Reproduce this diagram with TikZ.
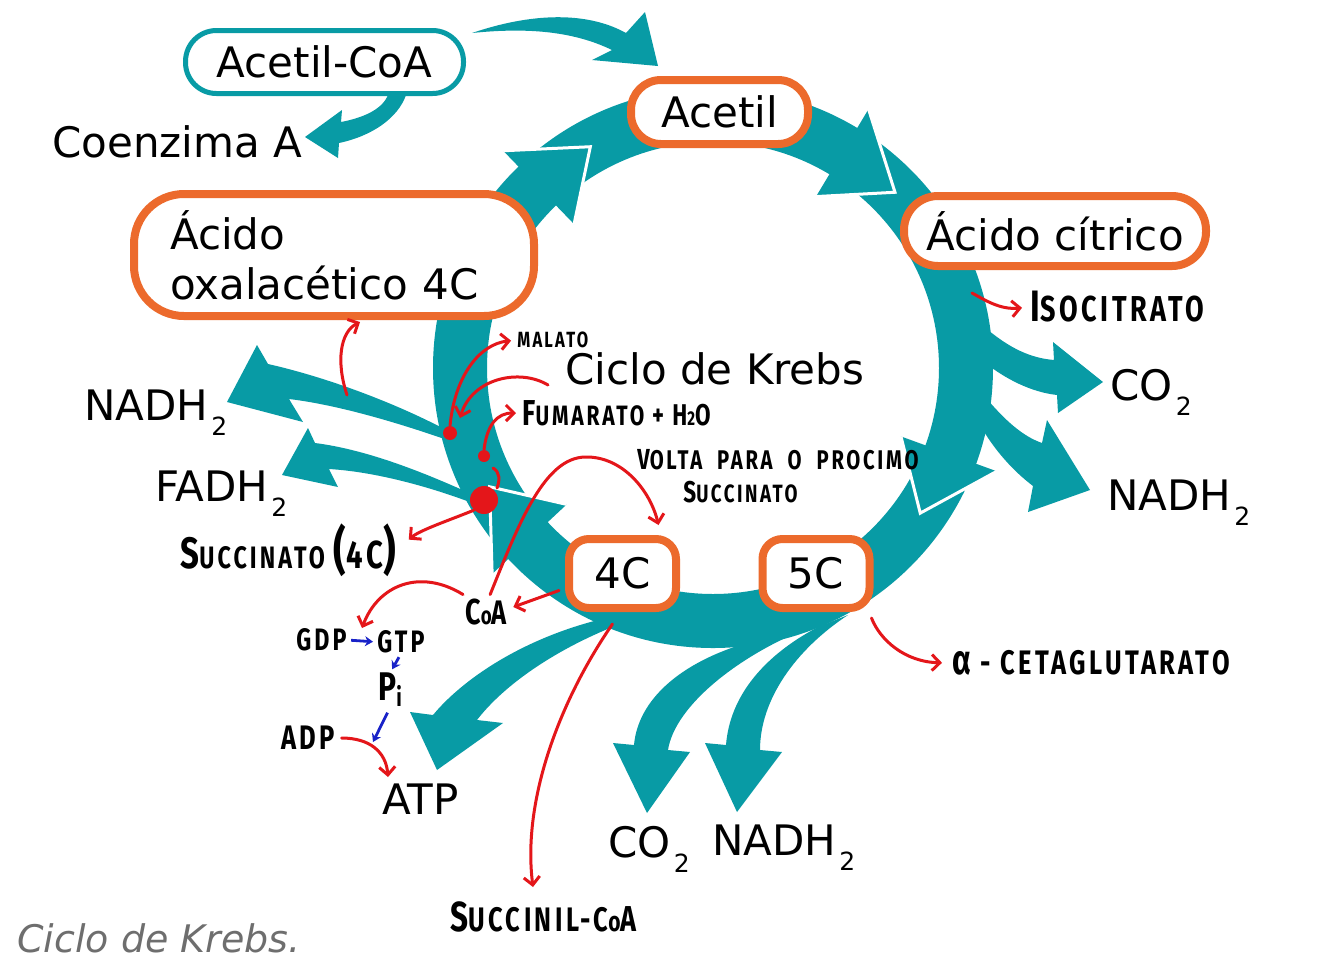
\documentclass[tikz,border=0pt]{standalone}
\usepackage{fontspec}
\setmainfont{DejaVu Sans}
\newfontfamily\hand{Fira Sans}[FakeStretch=0.75,LetterSpace=10]
\usetikzlibrary{arrows.meta,calc}
\definecolor{teal1}{RGB}{8,155,165}
\definecolor{orange1}{RGB}{236,106,44}
\definecolor{red1}{RGB}{228,22,26}
\definecolor{blue1}{RGB}{24,34,200}
\definecolor{gray1}{RGB}{110,110,110}
\newcommand\hsz[1]{\fontsize{#1}{#1}\selectfont}
\newcommand\dn{\hspace{1.5pt}\raisebox{-7.5pt}{\fontsize{12.5}{12.5}\selectfont 2}}
\tikzset{
  lab/.style={inner sep=0pt, font=\fontsize{21}{25}\selectfont},
  obox/.style={draw=orange1, line width=4pt, fill=white, inner sep=0pt, font=\fontsize{21}{25}\selectfont},
  ra/.style={draw=red1, line width=1.5pt, line cap=round, -{Straight Barb[length=4pt,width=8pt]}},
  ba/.style={draw=blue1, line width=1.4pt, -{Stealth[length=4pt,width=5pt]}},
  hw/.style={inner sep=0pt, font=\hand\bfseries},
  rdot/.style={circle, fill=red1, inner sep=0pt},
  tarr/.style={fill=teal1}
}
\begin{document}
\begin{tikzpicture}[x=0.5pt,y=-0.5pt]
\useasboundingbox (0,0) rectangle (1334,966);
\fill[white] (0,0) rectangle (1334,966);
\coordinate (C) at (713,368);
% ring
\fill[teal1, even odd rule] (C) circle[radius=140pt] (C) circle[radius=113pt];
% outer arrows
\fill[tarr] (472,33) .. controls (540,10) and (592,14) .. (626,33) -- (645,12) -- (658,66) -- (592,60) -- (612,50) .. controls (575,32) and (530,27) .. (472,33) -- cycle;
\fill[tarr] (388,95) .. controls (382,110) and (362,118) .. (341,122) -- (342,110) -- (305,137) -- (338,158) -- (339,143) .. controls (372,136) and (398,118) .. (406,95) -- cycle;
\fill[tarr] (450,432) .. controls (400,405) and (330,378) .. (268,364) -- (257,345) -- (227,402) -- (303,422) -- (289,399) .. controls (340,405) and (405,425) .. (453,442) -- cycle;
\fill[tarr] (478,497) .. controls (430,475) and (370,450) .. (315,443) -- (308,428) -- (282,475) -- (338,487) -- (329,469) .. controls (380,472) and (440,490) .. (480,506) -- cycle;
\fill[tarr] (988,330) .. controls (1010,348) and (1030,358) .. (1054,360) -- (1053,342) -- (1103,382) -- (1058,413) -- (1057,395) .. controls (1030,392) and (1005,378) .. (988,365) -- cycle;
\fill[tarr] (986,398) .. controls (1005,420) and (1022,436) .. (1042,443) -- (1047,420) -- (1090,490) -- (1028,512) -- (1033,486) .. controls (1012,470) and (995,450) .. (983,430) -- cycle;
\fill[tarr] (598,620) .. controls (520,640) and (462,680) .. (433,715) -- (410,712) -- (437,770) -- (503,723) -- (477,720) .. controls (500,690) and (545,655) .. (610,628) -- cycle;
\fill[tarr] (750,642) .. controls (680,662) and (638,700) .. (634,745) -- (613,743) -- (647,813) -- (690,752) -- (668,750) .. controls (675,705) and (740,655) .. (808,628) -- cycle;
\fill[tarr] (818,627) .. controls (765,655) and (730,695) .. (726,745) -- (705,743) -- (737,812) -- (782,752) -- (760,750) .. controls (760,700) and (795,650) .. (848,615) -- cycle;
% ring heads
\foreach \a in {137,226,301,20}{
  \filldraw[fill=teal1, draw=white, line width=1.5pt] ($(C)+(\a:200)$) -- ($(C)+(\a+15:253)$) -- ($(C)+(\a:302)$);
}
% boxes
\node[draw=teal1, line width=2.5pt, fill=white, rounded corners=15.5pt, minimum width=139pt, minimum height=31.5pt, lab] (acoa) at (324.5,62) {Acetil-CoA};
\node[obox, rounded corners=15pt, minimum width=88.5pt, minimum height=32pt] (acetil) at (719.5,112) {Acetil};
\node[obox, rounded corners=17pt, minimum width=151pt, minimum height=35pt] (cit) at (1055,231) {Ácido cítrico};
\node[obox, rounded corners=25pt, minimum width=200pt, minimum height=61pt, text width=164pt, inner xsep=18pt, align=left] (oxa) at (334,255) {Ácido\\oxalacético 4C};
\node[obox, rounded corners=10pt, minimum width=53.5pt, minimum height=34.5pt] (c4) at (622.5,573.5) {4C};
\node[obox, rounded corners=10pt, minimum width=53.5pt, minimum height=34.5pt] (c5) at (816,573.5) {5C};
% labels
\node[lab, anchor=base west] (coenz) at (52,157) {Coenzima A};
\node[lab, anchor=base west] (krebs) at (565,384) {Ciclo de Krebs};
\node[lab, anchor=base west] (nadhL) at (84,420) {NADH\dn};
\node[lab, anchor=base west] (fadh) at (155,501) {FADH\dn};
\node[lab, anchor=base west] (co2R) at (1110,400) {CO\dn};
\node[lab, anchor=base west] (nadhR) at (1107,510) {NADH\dn};
\node[lab, anchor=base west] (atp) at (382,814) {ATP};
\node[lab, anchor=base west] (co2B) at (608,857) {CO\dn};
\node[lab, anchor=base west] (nadhB) at (712,855) {NADH\dn};
\node[anchor=base west, inner sep=0pt, font=\fontsize{19}{19}\selectfont\itshape, text=gray1] (cap) at (17,952) {Ciclo de Krebs.};
% handwritten notes
\node[hw, anchor=west] (malato) at (517,340) {\hsz{11}MALATO};
\node[hw, anchor=west] (fum) at (522,413) {\hsz{18}F\hsz{14}UMARATO \hsz{15}+ H\hsz{10}2\hsz{15}O};
\node[hw, anchor=west] (volta) at (637,460) {\hsz{14.5}V\hsz{13.5}OLTA\ \ PARA\ \ O\ \ PROCIMO};
\node[hw, anchor=west] (succ2) at (683,492) {\hsz{15}S\hsz{12.5}UCCINATO};
\node[hw, anchor=west] (succ) at (180,550) {\hsz{22}S\hsz{15.5}UCCINATO \hsz{26}(\hsz{19.5}4C\hsz{26})};
\node[hw, anchor=west] (coa) at (465,612) {\hsz{18}C\hsz{12.5}o\hsz{17}A};
\node[hw, anchor=west] (gdp) at (296,640) {\hsz{15.5}GDP};
\node[hw, anchor=west] (gtp) at (377,642) {\hsz{15.5}GTP};
\node[hw, anchor=west] (pi) at (378,690) {\hsz{20}P\raisebox{-3pt}{\hsz{13}i}};
\node[hw, anchor=west] (adp) at (281,738) {\hsz{17}ADP};
\node[hw, anchor=west] (iso) at (1030,307) {\hsz{22}I\hsz{18}SOCITRATO};
\node[hw, anchor=west] (ceta) at (952,663) {\hsz{21}α\hsz{17} - CETAGLUTARATO};
\node[hw, anchor=west] (succoa) at (450,917) {\hsz{21}S\hsz{17}UCCINIL-C\hsz{14}o\hsz{18}A};
% red dots
\node[rdot, minimum size=7pt] (d1) at (450,433) {};
\node[rdot, minimum size=6pt] (d2) at (484,456) {};
\node[rdot, minimum size=14pt] (d3) at (484,500) {};
% coordinates
\coordinate (a1) at (347,395);
\coordinate (a1e) at (360,322);
\coordinate (a3) at (548,385);
\coordinate (a3e) at (460,418);
\coordinate (a5) at (493,468);
\coordinate (a5e) at (497,488);
\coordinate (a9e) at (362,628);
\coordinate (a12e) at (373,742);
\coordinate (a13e) at (388,777);
\coordinate (a14e) at (533,887);
\coordinate (a16) at (972,293);
% red connectors
\draw[ra] (a1) .. controls (336,362) and (340,332) .. (a1e);
\draw[ra, shorten >=3pt] (d1.north) .. controls (455,375) and (480,344) .. (malato.west);
\draw[ra] (a3) .. controls (520,368) and (472,378) .. (a3e);
\draw[ra, shorten >=3pt] (d2.north) .. controls (487,425) and (497,413) .. (fum.west);
\draw[red1, line width=1.5pt, line cap=round] (a5) .. controls (500,472) and (500,480) .. (a5e);
\draw[ra, shorten >=8pt] (d3.south west) .. controls (450,520) and (420,530) .. (succ.east);
\draw[ra] ($(coa.north)+(4,-4)$) .. controls (520,520) and (545,458) .. (585,457) .. controls (622,456) and (650,490) .. ($(c4.north)+(36,-10)$);
\draw[ra] ($(c4.west)+(-6,17)$) -- ($(coa.east)+(6,-5)$);
\draw[ra] ($(coa.north west)+(-2,-4)$) .. controls (420,568) and (378,585) .. (a9e);
\draw[ba, shorten <=2pt, shorten >=2pt] (gdp.east) -- (gtp.west);
\draw[ba, shorten <=2pt, shorten >=2pt] (gtp.south) -- (pi.north);
\draw[ba, shorten <=3pt] (pi.south) -- (a12e);
\draw[ra, shorten <=3pt] (adp.east) .. controls (370,738) and (386,752) .. (a13e);
\draw[ra] ($(c4.south)+(-10,12)$) .. controls (560,700) and (522,800) .. (a14e);
\draw[ra, shorten >=5pt] ($(c5.south east)+(-2,6)$) .. controls (880,640) and (905,662) .. (ceta.west);
\draw[ra, shorten >=4pt] (a16) .. controls (985,300) and (1000,310) .. (iso.west);
\end{tikzpicture}
\end{document}
